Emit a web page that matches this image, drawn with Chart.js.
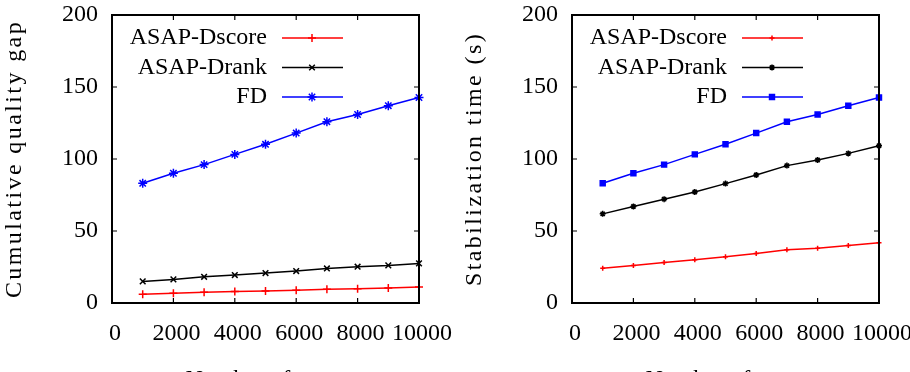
<!DOCTYPE html>
<html><head><meta charset="utf-8">
<script src="https://cdn.jsdelivr.net/npm/chart.js@4/dist/chart.umd.min.js"></script>
<style>
html,body{margin:0;padding:0;width:910px;height:372px;overflow:hidden;background:#fff;font-family:"Liberation Serif",serif}
.wrap{position:absolute;top:0;width:460px;height:400px}
</style></head><body>
<div class="wrap" style="left:0"><canvas id="c1" width="460" height="400"></canvas></div>
<div class="wrap" style="left:460px"><canvas id="c2" width="460" height="400"></canvas></div>
<script>
// ---- data ----
const xValues = [1000, 2000, 3000, 4000, 5000, 6000, 7000, 8000, 9000, 10000];
const seriesLabels = ['ASAP-Dscore', 'ASAP-Drank', 'FD'];
// left panel: cumulative quality gap
const dscoreGap = [6.0, 6.7, 7.4, 7.9, 8.3, 8.8, 9.5, 9.9, 10.4, 11.1];
const drankGap  = [15.0, 16.4, 18.2, 19.4, 20.8, 22.2, 24.0, 25.2, 26.1, 27.5];
const fdGap     = [83.1, 90.1, 96.1, 103.2, 110.2, 118.0, 125.9, 130.9, 137.0, 142.7];
// right panel: stabilization time (s)
const dscoreTime = [24.2, 26.1, 28.2, 30.0, 32.1, 34.4, 37.0, 38.1, 40.0, 41.8];
const drankTime  = [61.9, 67.0, 72.1, 77.1, 82.9, 88.9, 95.4, 99.3, 103.9, 109.2];
const fdTime     = [83.1, 90.1, 96.1, 103.2, 110.2, 118.0, 125.9, 130.9, 137.0, 142.7];
// ticks & titles
const xTickValues = [0, 2000, 4000, 6000, 8000, 10000];
const yTickValues = [0, 50, 100, 150, 200];
const xTitle = 'Number of users';
const yTitleGap = 'Cumulative quality gap';
const yTitleTime = 'Stabilization time (s)';

// ---- styling ----
const FONT = '"Liberation Serif", "Times New Roman", serif';
const colors = ['rgb(255,0,0)', 'rgb(0,0,0)', 'rgb(0,0,255)'];

function pts(ys) { return xValues.map((x, i) => ({x: x, y: ys[i]})); }
function noPad(s) { s.paddingTop = 0; s.paddingBottom = 0; s.paddingLeft = 0; s.paddingRight = 0; }

const framePlugin = {
  id: 'frame',
  beforeDraw(chart) {
    const s = chart.scales.y;
    if (s && !s._spaced) {
      const orig = s.drawTitle;
      s.drawTitle = function () {
        this.ctx.save();
        this.ctx.letterSpacing = '2.4px';
        orig.call(this);
        this.ctx.restore();
      };
      s._spaced = true;
    }
  },
  afterDraw(chart) {
    const ctx = chart.ctx, a = chart.chartArea;
    const xs = chart.scales.x, ys = chart.scales.y;
    ctx.save();
    ctx.strokeStyle = '#000';
    ctx.lineWidth = 1.2;
    const tl = 5;
    ctx.beginPath();
    ys.ticks.forEach(t => {
      if (t.value <= ys.min || t.value >= ys.max) return;
      const y = ys.getPixelForValue(t.value);
      ctx.moveTo(a.left, y); ctx.lineTo(a.left + tl, y);
      ctx.moveTo(a.right, y); ctx.lineTo(a.right - tl, y);
    });
    xs.ticks.forEach(t => {
      if (t.value <= xs.min || t.value >= xs.max) return;
      const x = xs.getPixelForValue(t.value);
      ctx.moveTo(x, a.bottom); ctx.lineTo(x, a.bottom - tl);
      ctx.moveTo(x, a.top); ctx.lineTo(x, a.top + tl);
    });
    ctx.stroke();
    ctx.lineWidth = 2;
    ctx.strokeRect(a.left, a.top, a.right - a.left, a.bottom - a.top);
    // gnuplot-style key: text right-aligned, then line sample with marker
    ctx.font = '24px ' + FONT;
    ctx.textAlign = 'right';
    ctx.textBaseline = 'middle';
    chart.data.datasets.forEach((ds, i) => {
      const y = a.top + 23 + i * 29.5;
      ctx.fillStyle = '#000';
      ctx.fillText(ds.label, a.left + 155, y);
      ctx.strokeStyle = ds.borderColor;
      ctx.lineWidth = ds.borderWidth;
      ctx.beginPath();
      ctx.moveTo(a.left + 170, y); ctx.lineTo(a.left + 231, y);
      ctx.stroke();
      ctx.fillStyle = ds.pointBackgroundColor;
      ctx.strokeStyle = ds.borderColor;
      ctx.lineWidth = ds.pointBorderWidth;
      Chart.helpers.drawPoint(ctx, {pointStyle: ds.pointStyle, radius: ds.pointRadius, rotation: 0, borderWidth: ds.pointBorderWidth}, a.left + 200, y);
    });
    ctx.restore();
  }
};

function makeChart(id, series, yTitle, styles) {
  const datasets = series.map((ys, i) => ({
    label: seriesLabels[i],
    data: pts(ys),
    borderColor: colors[i],
    backgroundColor: colors[i],
    pointBackgroundColor: colors[i],
    borderWidth: 1.5,
    pointBorderWidth: 1.5,
    pointStyle: styles[i].style,
    pointRadius: styles[i].r,
    tension: 0,
    clip: false
  }));
  const tickFont = {family: FONT, size: 24};
  return new Chart(document.getElementById(id), {
    type: 'line',
    data: {datasets},
    plugins: [framePlugin],
    options: {
      responsive: false,
      animation: false,
      devicePixelRatio: 1,
      layout: {padding: {top: 15, right: 41, left: 0, bottom: 0}},
      plugins: {legend: {display: false}, tooltip: {enabled: false}},
      scales: {
        x: {
          type: 'linear', min: 0, max: 10000,
          afterBuildTicks: s => { s.ticks = xTickValues.map(v => ({value: v})); },
          afterFit: s => { s.height = 97; noPad(s); },
          grid: {display: false, drawTicks: false},
          border: {display: false},
          ticks: {color: '#000', padding: 16, labelOffset: 3, maxRotation: 0, autoSkip: false, callback: v => String(v), font: tickFont},
          title: {display: true, text: xTitle, color: '#000', padding: {top: 0, bottom: 6}, font: tickFont}
        },
        y: {
          type: 'linear', min: 0, max: 200,
          afterBuildTicks: s => { s.ticks = yTickValues.map(v => ({value: v})); },
          afterFit: s => { s.width = 112; noPad(s); },
          grid: {display: false, drawTicks: false},
          border: {display: false},
          ticks: {color: '#000', padding: 14, autoSkip: false, callback: v => String(v), font: tickFont},
          title: {display: true, text: yTitle, color: '#000', padding: {top: 0, bottom: 0}, font: tickFont}
        }
      }
    }
  });
}

function build() {
  makeChart('c1', [dscoreGap, drankGap, fdGap], yTitleGap,
    [{style: 'cross', r: 4}, {style: 'crossRot', r: 4}, {style: 'star', r: 4.5}]);
  makeChart('c2', [dscoreTime, drankTime, fdTime], yTitleTime,
    [{style: 'cross', r: 2.5}, {style: 'star', r: 3}, {style: 'rect', r: 3.5}]);
}
if (document.fonts && document.fonts.load) {
  document.fonts.load('24px "Liberation Serif"').then(build, build);
} else { build(); }
</script>
</body></html>
